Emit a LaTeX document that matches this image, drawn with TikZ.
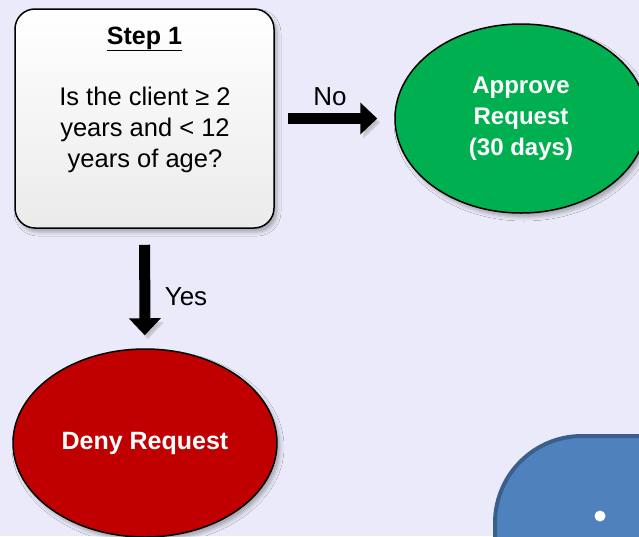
\documentclass[tikz,border=0pt]{standalone}
\usepackage{fontspec}
\setmainfont{Liberation Sans}
\usetikzlibrary{arrows.meta}
\usetikzlibrary{shapes.geometric}
\usetikzlibrary{shadows.blur}
\definecolor{bglav}{RGB}{234,234,250}
\definecolor{okgreen}{RGB}{0,176,80}
\definecolor{nored}{RGB}{192,0,0}
\definecolor{nextblue}{RGB}{79,129,189}
\definecolor{nextedge}{RGB}{58,95,140}

\begin{document}
\begin{tikzpicture}[x=1pt,y=-1pt,
	softshadow/.style={blur shadow={shadow xshift=3pt,shadow yshift=-4pt,shadow opacity=30,shadow blur radius=4pt}},
	stepbox/.style={draw,line width=1.5pt,rounded corners=20pt,top color=white,bottom color=black!8,minimum width=259pt,minimum height=219pt,softshadow},
	outcome/.style={ellipse,draw,line width=1.5pt,inner sep=0pt,text=white,font=\fontsize{24}{31}\selectfont\bfseries,align=center,softshadow},
	bigarrow/.style={line width=11pt,-{Triangle[length=17pt,width=31pt]},preaction={draw=black!30,opacity=.5,transform canvas={shift={(3pt,-4pt)}}}},
	lbl/.style={font=\fontsize{26}{31}\selectfont}]
	\useasboundingbox[fill=bglav] (0,0) rectangle (639,536);
	\clip (0,0) rectangle (639,536);

	\node[stepbox] (box1) at (144.5,118.5) {};
	\node[font=\fontsize{25}{31}\selectfont\bfseries,anchor=base] (box1title) at (144.5,44) {\underline{Step 1}};
	\node[font=\fontsize{25.5}{31}\selectfont,align=center] (box1text) at (145,130) {Is the client ≥ 2\\years and < 12\\years of age?};

	\node[outcome,fill=okgreen,minimum width=252pt,minimum height=189pt] (approve) at (521,118.5) {Approve\\Request\\(30 days)};
	\node[outcome,fill=nored,minimum width=264pt,minimum height=188pt,font=\fontsize{25}{31}\selectfont\bfseries] (deny) at (145,443) {Deny Request};

	\draw[bigarrow,shorten <=13pt,shorten >=17pt] (box1) -- (approve);
	\draw[bigarrow,shorten <=16pt,shorten >=13pt] (box1) -- (deny);
	\node[lbl] (nolbl) at (330,97) {No};
	\node[lbl] (yeslbl) at (186,297) {Yes};

	\filldraw[fill=nextblue,draw=nextedge,line width=4pt,rounded corners=87pt] (495,436) rectangle (760,700);
	\fill[white] (600,516) circle (5.5pt);
\end{tikzpicture}
\end{document}
